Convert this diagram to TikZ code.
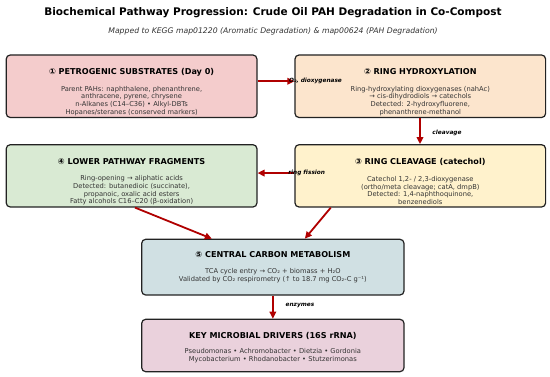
\documentclass[tikz,border=0pt]{standalone}
\usepackage{fontspec}
\setmainfont{DejaVu Sans}
\usetikzlibrary{arrows.meta}
\definecolor{cA}{HTML}{F4CCCC}
\definecolor{cB}{HTML}{FCE5CD}
\definecolor{cC}{HTML}{FFF2CC}
\definecolor{cD}{HTML}{D9EAD3}
\definecolor{cE}{HTML}{D0E0E3}
\definecolor{cF}{HTML}{EAD1DC}
\definecolor{arr}{HTML}{B00000}
\definecolor{bord}{HTML}{222222}
\definecolor{bodyc}{HTML}{333333}
\begin{document}
\begin{tikzpicture}[x=1pt,y=-1pt,
  box/.style={draw=bord,line width=1.2pt,rounded corners=4pt,inner sep=0pt},
  head/.style={font=\fontsize{8.1}{9}\selectfont\bfseries,text=black,inner sep=0pt},
  body/.style={font=\fontsize{6.7}{7.7}\selectfont,text=bodyc,align=center,inner sep=0pt},
  conn/.style={draw=arr,line width=1.8pt,-{Triangle[length=7pt,width=6.5pt]}},
  lab/.style={font=\fontsize{5.8}{6.5}\selectfont\bfseries\itshape,text=black,inner sep=0pt}]
\useasboundingbox[fill=white] (0,0) rectangle (550,377);
\node[font=\fontsize{10.5}{12}\selectfont\bfseries] (title) at (273,12.3) {Biochemical Pathway Progression: Crude Oil PAH Degradation in Co-Compost};
\node[font=\fontsize{7.7}{9}\selectfont\itshape,text=bodyc] (sub) at (273,31.6) {Mapped to KEGG map01220 (Aromatic Degradation) \& map00624 (PAH Degradation)};
% boxes
\node[box,fill=cA,minimum width=250.7pt,minimum height=62.5pt] (b1) at (131.6,86.25) {};
\node[box,fill=cB,minimum width=250.6pt,minimum height=62.5pt] (b2) at (420.3,86.25) {};
\node[box,fill=cD,minimum width=250.7pt,minimum height=62.3pt] (b4) at (131.6,175.85) {};
\node[box,fill=cC,minimum width=250.6pt,minimum height=62.3pt] (b3) at (420.3,175.85) {};
\node[box,fill=cE,minimum width=262.3pt,minimum height=55.7pt] (b5) at (272.85,267.15) {};
\node[box,fill=cF,minimum width=262.3pt,minimum height=52.4pt] (b6) at (272.85,345.5) {};
% texts
\node[head] (h1) at (131.6,72) {① PETROGENIC SUBSTRATES (Day 0)};
\node[body] (t1) at (131.6,101) {Parent PAHs: naphthalene, phenanthrene,\\anthracene, pyrene, chrysene\\n-Alkanes (C14–C36) • Alkyl-DBTs\\Hopanes/steranes (conserved markers)};
\node[head] (h2) at (420.3,72) {② RING HYDROXYLATION};
\node[body] (t2) at (420.3,101) {Ring-hydroxylating dioxygenases (nahAc)\\→ cis-dihydrodiols → catechols\\Detected: 2-hydroxyfluorene,\\phenanthrene-methanol};
\node[head] (h4) at (131.6,161.6) {④ LOWER PATHWAY FRAGMENTS};
\node[body] (t4) at (131.6,190.6) {Ring-opening → aliphatic acids\\Detected: butanedioic (succinate),\\propanoic, oxalic acid esters\\Fatty alcohols C16–C20 (β-oxidation)};
\node[head] (h3) at (420.3,161.6) {③ RING CLEAVAGE (catechol)};
\node[body] (t3) at (420.3,190.6) {Catechol 1,2- / 2,3-dioxygenase\\(ortho/meta cleavage; catA, dmpB)\\Detected: 1,4-naphthoquinone,\\benzenediols};
\node[head] (h5) at (272.85,255) {⑤ CENTRAL CARBON METABOLISM};
\node[body] (t5) at (272.85,275.5) {TCA cycle entry → CO₂ + biomass + H₂O\\Validated by CO₂ respirometry (↑ to 18.7 mg CO₂-C g⁻¹)};
\node[head] (h6) at (272.85,336) {KEY MICROBIAL DRIVERS (16S rRNA)};
\node[body] (t6) at (272.85,356) {Pseudomonas • Achromobacter • Dietzia • Gordonia\\Mycobacterium • Rhodanobacter • Stutzerimonas};
% connectors
\draw[conn] ([yshift=5pt]b1.east) -- ([yshift=5pt]b2.west);
\draw[conn] ([xshift=-0.3pt]b2.south) -- ([xshift=-0.3pt]b3.north);
\draw[conn] ([yshift=2.8pt]b3.west) -- ([yshift=2.8pt]b4.east);
\draw[conn] ([xshift=3.4pt]b4.south) -- ([xshift=-61pt]b5.north);
\draw[conn] ([xshift=-89.5pt]b3.south) -- ([xshift=32pt]b5.north);
\draw[conn] (b5.south) -- (b6.north);
% labels
\node[lab] (l1) at (315.5,80.5) {O₂, dioxygenase};
\node[lab] (l2) at (447,132.6) {cleavage};
\node[lab] (l3) at (306.7,172.5) {ring fission};
\node[lab] (l4) at (300,305.7) {enzymes};
\end{tikzpicture}
\end{document}
